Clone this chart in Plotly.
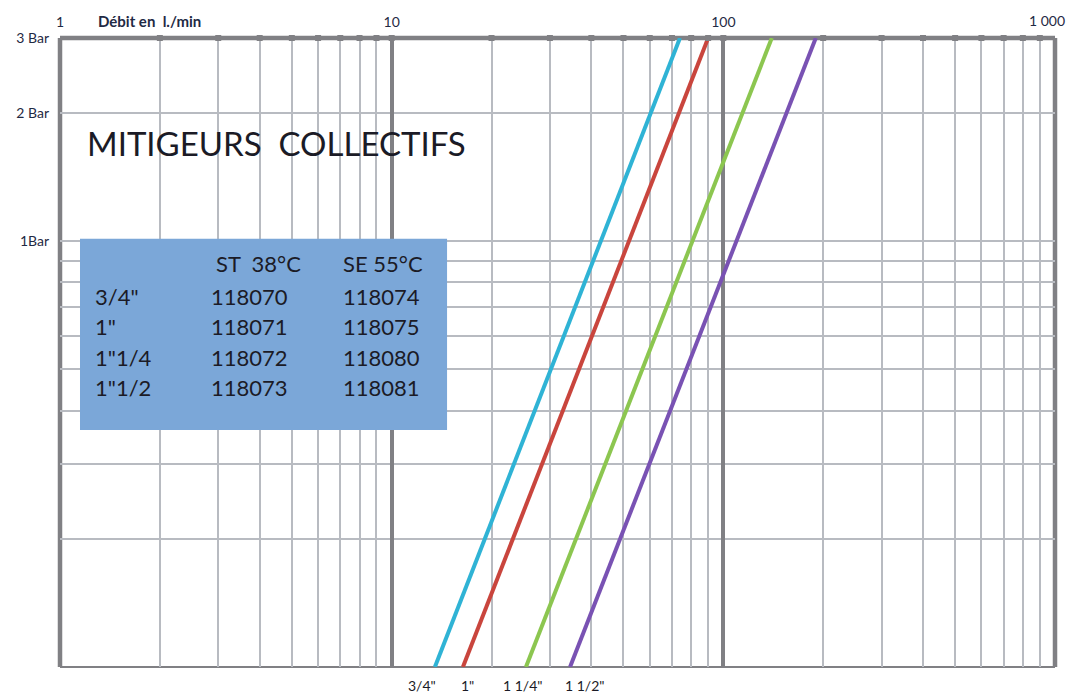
import numpy as np
import plotly.graph_objects as go

# ---- data ----
pressure_bar = [0.1, 3]                    # pressure range of each curve (bar)
sizes = ['3/4"', '1"', '1 1/4"', '1 1/2"']  # curve labels (bottom)
flow_3_4 = [13.5, 74]                      # l/min at 0.1 bar and 3 bar
flow_1 = [16.4, 90]
flow_1_1_4 = [25.4, 140]
flow_1_1_2 = [34.5, 190]
curve_colors = ["#2fb3d5", "#c9453d", "#8cc650", "#7952b3"]

table_sizes = ['3/4"', '1"', '1"1/4', '1"1/2']
table_st38 = ["118070", "118071", "118072", "118073"]
table_se55 = ["118074", "118075", "118080", "118081"]

x_major = [1, 10, 100, 1000]
x_major_text = ["1", "10", "100", "1 000"]
x_minor = [m * d for d in (1, 10, 100) for m in range(2, 10)]
y_grid = [0.2, 0.3, 0.4, 0.5, 0.6, 0.7, 0.8, 0.9, 1, 2, 3]
y_labels = {1: "1Bar", 2: "2 Bar", 3: "3 Bar"}

GRID = "#b8bbc1"
DARK = "#808084"
TXT = "#1b1b26"
LBL = "#1f2a44"
FONT = "Lato"

fig = go.Figure()

flows = [flow_3_4, flow_1, flow_1_1_4, flow_1_1_2]
for name, fl, col in zip(sizes, flows, curve_colors):
    fig.add_trace(go.Scatter(x=fl, y=pressure_bar, mode="lines", name=name,
                             line=dict(color=col, width=4), showlegend=False,
                             hoverinfo="skip"))

# tick squares on the top border
fig.add_trace(go.Scatter(x=x_minor + x_major[1:3], y=[3] * (len(x_minor) + 2),
                         mode="markers", marker=dict(symbol="square", size=6, color=DARK),
                         cliponaxis=False, showlegend=False, hoverinfo="skip"))

# page body has an 8px margin -> margins compensated so the plot sits at 60..1055 / 38..667
fig.update_layout(
    width=1075, height=694,
    margin=dict(l=52, r=28, t=30, b=35),
    paper_bgcolor="white", plot_bgcolor="white",
    font=dict(family=FONT, color=TXT),
    xaxis=dict(type="log", range=[0, 3], tickvals=x_minor, showticklabels=False,
               ticks="", showgrid=True, gridcolor=GRID, gridwidth=1.5,
               zeroline=False, showline=False, automargin=False),
    xaxis2=dict(type="log", range=[0, 3], overlaying="x", side="top",
                tickvals=x_major, ticktext=x_major_text[:-1] + [""], ticks="",
                ticklabelstandoff=7, automargin=False,
                showgrid=True, gridcolor=DARK, gridwidth=3.5, zeroline=False,
                tickfont=dict(size=14, color=LBL, family=FONT)),
    yaxis=dict(type="log", range=[-1, np.log10(3)], tickvals=y_grid,
               ticktext=[y_labels.get(v, "") for v in y_grid], ticks="",
               ticklabelstandoff=10, automargin=False,
               showgrid=True, gridcolor=GRID, gridwidth=1.5, zeroline=False,
               tickfont=dict(size=14, color=LBL, family=FONT)),
)
# dummy trace to activate xaxis2
fig.add_trace(go.Scatter(x=[1, 1000], y=[3, 3], xaxis="x2", mode="lines",
                         line=dict(width=0), showlegend=False, hoverinfo="skip"))

# border lines
fig.add_shape(type="line", xref="paper", yref="paper", x0=0, x1=1, y0=1, y1=1,
              line=dict(color=DARK, width=4.5), layer="below")
fig.add_shape(type="line", xref="paper", yref="paper", x0=0, x1=1, y0=0, y1=0,
              line=dict(color=DARK, width=2), layer="below")
fig.add_shape(type="line", xref="paper", yref="paper", x0=0, x1=0, y0=0, y1=1,
              line=dict(color=DARK, width=4.5), layer="below")
fig.add_shape(type="line", xref="paper", yref="paper", x0=1, x1=1, y0=0, y1=1,
              line=dict(color=DARK, width=4.5), layer="below")

# table box
fig.add_shape(type="rect", xref="paper", yref="paper", x0=0.0201, x1=0.389,
              y0=0.3768, y1=0.681, fillcolor="#7ba7d8", line=dict(width=0),
              layer="above")

ann = []
# last top tick label, kept inside the visible window
ann.append(dict(text=x_major_text[-1], x=np.log10(x_major[-1]), y=1.0, xref="x", yref="paper",
                xanchor="right", yanchor="bottom", xshift=12, yshift=7, showarrow=False,
                font=dict(size=14, color=LBL, family=FONT)))
ann.append(dict(text="MITIGEURS  COLLECTIFS", x=0.025, y=0.833, xref="paper", yref="paper",
                xanchor="left", yanchor="middle", showarrow=False,
                font=dict(size=33, color=TXT, family=FONT)))
ann.append(dict(text="<b>Débit en  l./min</b>", x=0.036, y=1.027, xref="paper", yref="paper",
                xanchor="left", yanchor="middle", showarrow=False,
                font=dict(size=15, color=LBL, family=FONT)))
row_y = [0.5898, 0.5421, 0.4928, 0.4436]
ann.append(dict(text="ST  38°C", x=0.155, y=0.6407, xref="paper", yref="paper",
                xanchor="left", yanchor="middle", showarrow=False,
                font=dict(size=22, color=TXT, family=FONT)))
ann.append(dict(text="SE 55°C", x=0.2824, y=0.6407, xref="paper", yref="paper",
                xanchor="left", yanchor="middle", showarrow=False,
                font=dict(size=22, color=TXT, family=FONT)))
for yv, s, a, b in zip(row_y, table_sizes, table_st38, table_se55):
    for xv, t in ((0.0332, s), (0.1497, a), (0.2824, b)):
        ann.append(dict(text=t, x=xv, y=yv, xref="paper", yref="paper",
                        xanchor="left", yanchor="middle", showarrow=False,
                        font=dict(size=22, color=TXT, family=FONT)))

label_shift = [-13, 5, -3, 14]
for name, fl, sh in zip(sizes, flows, label_shift):
    ann.append(dict(text=name, x=np.log10(fl[0]), y=-0.029, xref="x", yref="paper",
                    xanchor="center", yanchor="middle", xshift=sh, showarrow=False,
                    font=dict(size=14, color=TXT, family=FONT)))
fig.update_layout(annotations=ann)

fig.write_html("out.html")
